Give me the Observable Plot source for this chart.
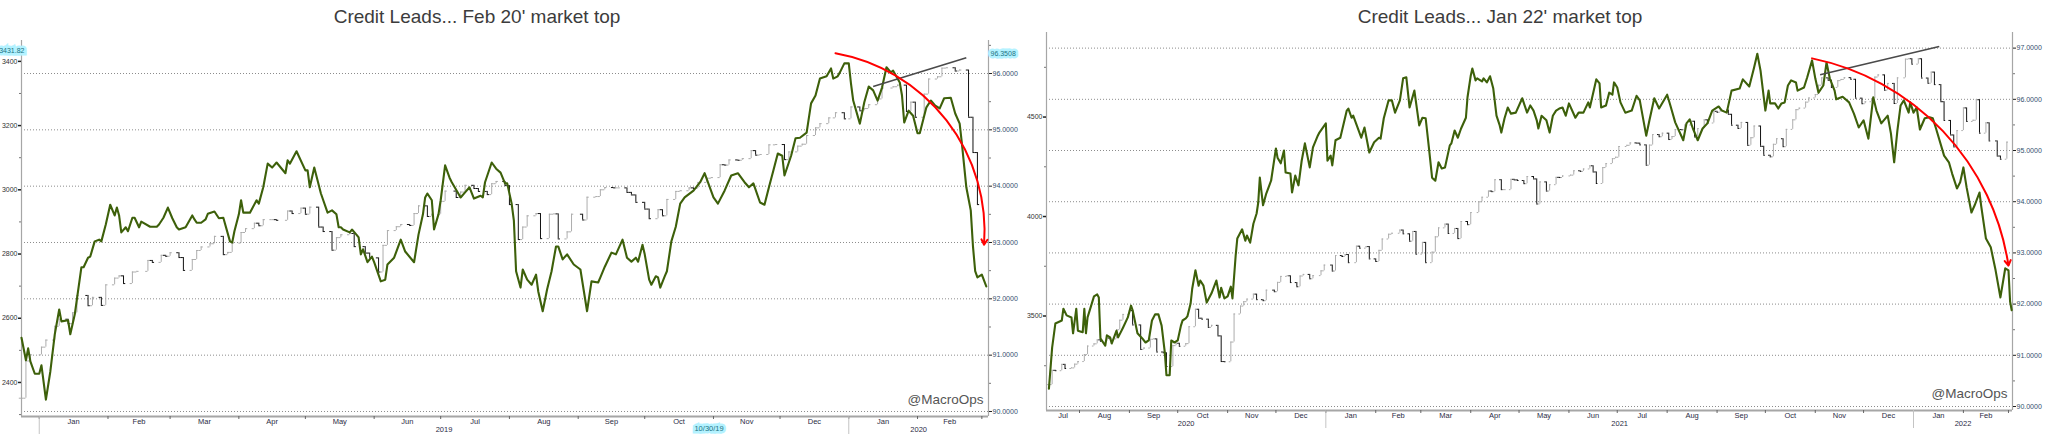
<!DOCTYPE html>
<html><head><meta charset="utf-8">
<script src="https://cdn.jsdelivr.net/npm/d3@7"></script>
<script src="https://cdn.jsdelivr.net/npm/@observablehq/plot@0.6"></script>
<style>
html,body{margin:0;padding:0;background:#fff;}
#wrap{position:relative;width:2048px;height:434px;overflow:hidden;background:#fff;}
.panel{position:absolute;top:0;}
.title{position:absolute;top:7px;font-family:"Liberation Sans",Arial,sans-serif;font-size:19px;line-height:19px;color:#3c3c3c;text-align:center;white-space:nowrap;}
</style></head><body>
<div id="wrap">
  <div class="panel" id="p1" style="left:0"></div>
  <div class="panel" id="p2" style="left:1024px"></div>
  <div class="title" id="t1" style="left:0;width:954px"></div>
  <div class="title" id="t2" style="left:1024px;width:952px"></div>
</div>
<script>
// ---------------- text ----------------
const titles = ["Credit Leads... Feb 20' market top", "Credit Leads... Jan 22' market top"];
const watermark = "@MacroOps";

// ---------------- panel 1 : Dec 2018 - Feb 2020 ----------------
const p1SpxDates = `2018-12-24 2018-12-26 2018-12-28 2019-01-02 2019-01-04 2019-01-08 2019-01-10 2019-01-14 2019-01-16 2019-01-18
2019-01-23 2019-01-25 2019-01-29 2019-01-31 2019-02-04 2019-02-06 2019-02-08 2019-02-12 2019-02-14 2019-02-19 2019-02-21 2019-02-25
2019-02-27 2019-03-01 2019-03-05 2019-03-07 2019-03-11 2019-03-13 2019-03-15 2019-03-19 2019-03-21 2019-03-25 2019-03-27 2019-03-29
2019-04-02 2019-04-04 2019-04-08 2019-04-10 2019-04-12 2019-04-16 2019-04-18 2019-04-23 2019-04-25 2019-04-29 2019-05-01 2019-05-03
2019-05-07 2019-05-09 2019-05-13 2019-05-15 2019-05-17 2019-05-21 2019-05-23 2019-05-28 2019-05-30 2019-06-03 2019-06-05 2019-06-07
2019-06-11 2019-06-13 2019-06-17 2019-06-19 2019-06-21 2019-06-25 2019-06-27 2019-07-01 2019-07-03 2019-07-08 2019-07-10 2019-07-12
2019-07-16 2019-07-18 2019-07-22 2019-07-24 2019-07-26 2019-07-30 2019-08-01 2019-08-05 2019-08-07 2019-08-09 2019-08-13 2019-08-15
2019-08-19 2019-08-21 2019-08-23 2019-08-27 2019-08-29 2019-09-03 2019-09-05 2019-09-09 2019-09-11 2019-09-13 2019-09-17 2019-09-19
2019-09-23 2019-09-25 2019-09-27 2019-10-01 2019-10-03 2019-10-07 2019-10-09 2019-10-11 2019-10-15 2019-10-17 2019-10-21 2019-10-23
2019-10-25 2019-10-29 2019-10-31 2019-11-04 2019-11-06 2019-11-08 2019-11-12 2019-11-14 2019-11-18 2019-11-20 2019-11-22 2019-11-26
2019-11-29 2019-12-03 2019-12-05 2019-12-09 2019-12-11 2019-12-13 2019-12-17 2019-12-19 2019-12-23 2019-12-26 2019-12-30 2020-01-02
2020-01-06 2020-01-08 2020-01-10 2020-01-14 2020-01-16 2020-01-21 2020-01-23 2020-01-27 2020-01-29 2020-01-31 2020-02-04 2020-02-06
2020-02-10 2020-02-12 2020-02-14 2020-02-18 2020-02-20 2020-02-24 2020-02-26 2020-02-28`.trim().split(/\s+/);
const p1SpxClose = [2351,2467,2486,2510,2532,2575,2597,2583,2617,2671,
2639,2665,2640,2704,2725,2732,2708,2744,2746,2780,2774,2796,
2793,2804,2789,2749,2783,2811,2822,2832,2855,2798,2805,2834,
2867,2879,2896,2888,2907,2907,2905,2934,2926,2943,2924,2946,
2884,2870,2812,2851,2860,2864,2823,2803,2788,2744,2827,2873,
2885,2892,2889,2926,2950,2917,2924,2964,2996,2976,2993,3014,
3004,2995,2985,3019,3026,3013,2954,2845,2884,2919,2926,2848,
2924,2925,2847,2869,2924,2906,2977,2979,3000,3007,3006,3006,
2992,2984,2961,2940,2910,2938,2919,2970,2995,2997,3006,3004,
3023,3036,3038,3078,3077,3093,3092,3097,3122,3108,3110,3140,
3141,3094,3118,3136,3142,3169,3193,3206,3224,3240,3221,3258,
3246,3253,3265,3283,3317,3321,3326,3244,3273,3226,3298,3345,
3352,3379,3380,3370,3373,3226,3116,2954];

const p1CreditDates = `2018-12-24 2018-12-26 2018-12-27 2018-12-28 2018-12-30 2019-01-01 2019-01-02 2019-01-04 2019-01-06 2019-01-08
2019-01-10 2019-01-11 2019-01-14 2019-01-15 2019-01-17 2019-01-20 2019-01-21 2019-01-23 2019-01-24 2019-01-26 2019-01-28 2019-01-29
2019-01-31 2019-02-02 2019-02-04 2019-02-05 2019-02-06 2019-02-07 2019-02-09 2019-02-10 2019-02-12 2019-02-13 2019-02-15 2019-02-16
2019-02-20 2019-02-23 2019-02-24 2019-02-26 2019-02-28 2019-03-02 2019-03-04 2019-03-05 2019-03-08 2019-03-11 2019-03-12 2019-03-13
2019-03-15 2019-03-17 2019-03-18 2019-03-21 2019-03-23 2019-03-25 2019-03-28 2019-03-29 2019-03-30 2019-04-01 2019-04-02 2019-04-03
2019-04-06 2019-04-09 2019-04-10 2019-04-12 2019-04-14 2019-04-16 2019-04-18 2019-04-22 2019-04-23 2019-04-24 2019-04-27 2019-05-01
2019-05-02 2019-05-03 2019-05-05 2019-05-08 2019-05-11 2019-05-13 2019-05-15 2019-05-16 2019-05-17 2019-05-18 2019-05-21 2019-05-22
2019-05-24 2019-05-25 2019-05-26 2019-05-27 2019-05-29 2019-05-31 2019-06-01 2019-06-04 2019-06-06 2019-06-07 2019-06-10 2019-06-13
2019-06-15 2019-06-19 2019-06-21 2019-06-23 2019-06-24 2019-06-25 2019-06-27 2019-06-28 2019-06-30 2019-07-01 2019-07-03 2019-07-05
2019-07-06 2019-07-10 2019-07-12 2019-07-14 2019-07-16 2019-07-19 2019-07-20 2019-07-21 2019-07-24 2019-07-26 2019-07-28 2019-07-30
2019-07-31 2019-08-02 2019-08-03 2019-08-04 2019-08-06 2019-08-07 2019-08-09 2019-08-11 2019-08-13 2019-08-14 2019-08-16 2019-08-18
2019-08-20 2019-08-22 2019-08-23 2019-08-25 2019-08-27 2019-08-30 2019-09-02 2019-09-05 2019-09-07 2019-09-10 2019-09-11 2019-09-13
2019-09-16 2019-09-18 2019-09-21 2019-09-23 2019-09-25 2019-09-27 2019-09-28 2019-09-30 2019-10-01 2019-10-03 2019-10-04 2019-10-06
2019-10-07 2019-10-08 2019-10-10 2019-10-11 2019-10-13 2019-10-15 2019-10-17 2019-10-19 2019-10-23 2019-10-26 2019-10-28 2019-11-01
2019-11-03 2019-11-06 2019-11-09 2019-11-12 2019-11-15 2019-11-17 2019-11-19 2019-11-22 2019-11-24 2019-11-26 2019-11-28 2019-11-30
2019-12-02 2019-12-03 2019-12-06 2019-12-08 2019-12-10 2019-12-13 2019-12-15 2019-12-17 2019-12-19 2019-12-22 2019-12-24 2019-12-25
2019-12-27 2019-12-28 2019-12-30 2020-01-01 2020-01-02 2020-01-03 2020-01-06 2020-01-08 2020-01-10 2020-01-12 2020-01-14 2020-01-16
2020-01-18 2020-01-20 2020-01-21 2020-01-24 2020-01-25 2020-01-26 2020-01-28 2020-01-30 2020-02-01 2020-02-02 2020-02-05 2020-02-07
2020-02-09 2020-02-11 2020-02-13 2020-02-16 2020-02-18 2020-02-20 2020-02-21 2020-02-23 2020-02-25 2020-02-26 2020-02-27 2020-02-28
2020-03-01 2020-03-03`.trim().split(/\s+/);
const p1Credit = [91.31,90.91,91.12,90.89,90.67,90.67,90.82,90.21,90.71,91.37,
91.81,91.60,91.62,91.37,91.72,92.56,92.56,92.73,92.75,93.02,93.05,93.02,
93.32,93.67,93.48,93.62,93.48,93.18,93.27,93.20,93.44,93.44,93.27,93.37,
93.28,93.28,93.32,93.44,93.62,93.43,93.27,93.23,93.27,93.48,93.41,93.35,
93.35,93.41,93.51,93.55,93.43,93.44,93.02,93.00,93.20,93.50,93.75,93.53,
93.53,93.75,93.69,93.98,94.40,94.33,94.42,94.23,94.46,94.40,94.62,94.28,
94.28,93.98,94.33,93.87,93.53,93.57,93.50,93.27,93.27,93.23,93.18,93.23,
93.14,93.09,92.79,92.88,92.65,92.75,92.65,92.31,92.34,92.61,92.73,93.05,
92.84,92.65,93.14,93.50,93.80,93.87,93.75,93.23,93.50,93.75,94.37,94.15,
94.07,93.80,93.89,93.98,93.78,93.83,93.80,94.07,94.42,94.31,94.24,94.05,
94.05,93.69,93.39,92.49,92.20,92.52,92.34,92.25,92.43,92.13,91.78,92.17,
92.49,92.93,92.93,92.70,92.79,92.61,92.52,91.78,92.31,92.29,92.38,92.57,
92.82,92.79,93.05,92.73,92.66,92.73,92.66,92.96,92.79,92.34,92.25,92.40,
92.38,92.20,92.40,92.49,93.02,93.28,93.69,93.80,93.92,94.07,94.23,93.80,
93.69,93.92,94.19,94.23,94.07,93.98,94.05,93.71,93.67,93.98,94.28,94.58,
94.54,94.19,94.54,94.85,94.86,94.95,95.47,95.61,95.91,95.95,96.09,95.91,
95.95,96.02,96.18,96.18,95.82,95.52,95.11,95.49,95.77,95.70,95.52,95.75,
96.11,96.02,96.05,95.84,95.61,95.13,95.34,95.25,94.94,94.94,95.40,95.52,
95.43,95.38,95.56,95.57,95.29,95.11,94.76,93.98,93.57,92.93,92.49,92.38,
92.43,92.22];

const p1LeftTicks = [2400, 2600, 2800, 3000, 3200, 3400];
const p1LeftMinor = [2300, 2500, 2700, 2900, 3100, 3300];
const p1RightTicks = [90, 91, 92, 93, 94, 95, 96];
const p1RightMinor = [90.5, 91.5, 92.5, 93.5, 94.5, 95.5, 96.5];
const p1ArcFrom = ["2019-12-26", 96.36];
const p1ArcTo = ["2020-03-02", 92.96];
const p1TrendFrom = ["2020-01-12", 95.77];
const p1TrendTo = ["2020-02-23", 96.28];
const p1LeftFlag = [3431.82];
const p1RightFlag = [96.3508];
const p1DateFlag = ["2019-10-30", "10/30/19"];

// ---------------- panel 2 : Jul 2020 - Feb 2022 ----------------
const p2SpxDates = `2020-07-13 2020-07-15 2020-07-17 2020-07-21 2020-07-23 2020-07-27 2020-07-29 2020-07-31 2020-08-04 2020-08-06
2020-08-10 2020-08-12 2020-08-14 2020-08-18 2020-08-20 2020-08-24 2020-08-26 2020-08-28 2020-09-01 2020-09-03 2020-09-08 2020-09-10
2020-09-14 2020-09-16 2020-09-18 2020-09-22 2020-09-24 2020-09-28 2020-09-30 2020-10-02 2020-10-06 2020-10-08 2020-10-12 2020-10-14
2020-10-16 2020-10-20 2020-10-22 2020-10-26 2020-10-28 2020-10-30 2020-11-03 2020-11-05 2020-11-09 2020-11-11 2020-11-13 2020-11-17
2020-11-19 2020-11-23 2020-11-25 2020-11-30 2020-12-02 2020-12-04 2020-12-08 2020-12-10 2020-12-14 2020-12-16 2020-12-18 2020-12-22
2020-12-24 2020-12-29 2020-12-31 2021-01-05 2021-01-07 2021-01-11 2021-01-13 2021-01-15 2021-01-20 2021-01-22 2021-01-26 2021-01-28
2021-02-01 2021-02-03 2021-02-05 2021-02-09 2021-02-11 2021-02-16 2021-02-18 2021-02-22 2021-02-24 2021-02-26 2021-03-02 2021-03-04
2021-03-08 2021-03-10 2021-03-12 2021-03-16 2021-03-18 2021-03-22 2021-03-24 2021-03-26 2021-03-30 2021-04-01 2021-04-06 2021-04-08
2021-04-12 2021-04-14 2021-04-16 2021-04-20 2021-04-22 2021-04-26 2021-04-28 2021-04-30 2021-05-04 2021-05-06 2021-05-10 2021-05-12
2021-05-14 2021-05-18 2021-05-20 2021-05-24 2021-05-26 2021-05-28 2021-06-02 2021-06-04 2021-06-08 2021-06-10 2021-06-14 2021-06-16
2021-06-18 2021-06-22 2021-06-24 2021-06-28 2021-06-30 2021-07-02 2021-07-07 2021-07-09 2021-07-13 2021-07-15 2021-07-19 2021-07-21
2021-07-23 2021-07-27 2021-07-29 2021-08-02 2021-08-04 2021-08-06 2021-08-10 2021-08-12 2021-08-16 2021-08-18 2021-08-20 2021-08-24
2021-08-26 2021-08-30 2021-09-01 2021-09-03 2021-09-08 2021-09-10 2021-09-14 2021-09-16 2021-09-20 2021-09-22 2021-09-24 2021-09-28
2021-09-30 2021-10-04 2021-10-06 2021-10-08 2021-10-12 2021-10-14 2021-10-18 2021-10-20 2021-10-22 2021-10-26 2021-10-28 2021-11-01
2021-11-03 2021-11-05 2021-11-09 2021-11-11 2021-11-15 2021-11-17 2021-11-19 2021-11-23 2021-11-26 2021-11-30 2021-12-02 2021-12-06
2021-12-08 2021-12-10 2021-12-14 2021-12-16 2021-12-20 2021-12-22 2021-12-27 2021-12-29 2021-12-31 2022-01-04 2022-01-06 2022-01-10
2022-01-12 2022-01-14 2022-01-18 2022-01-20 2022-01-24 2022-01-26 2022-01-28 2022-02-01 2022-02-03 2022-02-07 2022-02-09 2022-02-11
2022-02-15 2022-02-17 2022-02-22 2022-02-24 2022-02-28`.trim().split(/\s+/);
const p2SpxClose = [3155,3227,3225,3257,3236,3239,3258,3271,3306,3349,
3360,3380,3373,3389,3385,3431,3479,3508,3527,3455,3332,3339,
3383,3385,3319,3315,3246,3351,3363,3348,3361,3446,3534,3489,
3484,3443,3453,3400,3271,3270,3369,3510,3550,3572,3585,3610,
3582,3577,3630,3622,3669,3699,3702,3668,3647,3701,3709,3687,
3703,3727,3756,3726,3804,3799,3809,3768,3851,3841,3849,3787,
3774,3830,3887,3911,3916,3932,3913,3876,3925,3811,3870,3768,
3821,3898,3943,3962,3915,3940,3889,3975,3959,4020,4074,4097,
4128,4125,4185,4135,4135,4187,4184,4181,4165,4201,4189,4063,
4174,4128,4160,4197,4196,4204,4208,4230,4227,4239,4255,4224,
4166,4246,4266,4291,4298,4352,4358,4370,4369,4360,4258,4359,
4412,4401,4419,4387,4402,4437,4436,4460,4479,4400,4442,4486,
4470,4529,4524,4535,4514,4459,4443,4473,4358,4396,4455,4353,
4308,4300,4363,4391,4351,4438,4486,4537,4545,4575,4596,4613,
4660,4697,4685,4649,4683,4689,4698,4690,4595,4567,4577,4592,
4701,4712,4635,4669,4568,4697,4791,4793,4766,4793,4696,4670,
4726,4663,4577,4483,4410,4350,4432,4546,4478,4484,4587,4419,
4471,4380,4304,4288,4374];

const p2CreditDates = `2020-07-13 2020-07-15 2020-07-17 2020-07-21 2020-07-22 2020-07-24 2020-07-27 2020-07-28 2020-07-30 2020-07-31
2020-08-03 2020-08-04 2020-08-05 2020-08-06 2020-08-10 2020-08-12 2020-08-13 2020-08-14 2020-08-17 2020-08-18 2020-08-20 2020-08-21
2020-08-24 2020-08-25 2020-08-28 2020-08-31 2020-09-02 2020-09-03 2020-09-06 2020-09-09 2020-09-11 2020-09-13 2020-09-15 2020-09-17
2020-09-19 2020-09-21 2020-09-23 2020-09-24 2020-09-26 2020-09-27 2020-09-29 2020-10-01 2020-10-03 2020-10-04 2020-10-06 2020-10-07
2020-10-09 2020-10-10 2020-10-12 2020-10-14 2020-10-15 2020-10-17 2020-10-19 2020-10-22 2020-10-25 2020-10-27 2020-10-28 2020-10-30
2020-11-01 2020-11-03 2020-11-04 2020-11-06 2020-11-07 2020-11-10 2020-11-12 2020-11-13 2020-11-15 2020-11-17 2020-11-19 2020-11-20
2020-11-21 2020-11-23 2020-11-25 2020-11-28 2020-12-01 2020-12-02 2020-12-04 2020-12-06 2020-12-07 2020-12-10 2020-12-11 2020-12-13
2020-12-15 2020-12-17 2020-12-19 2020-12-22 2020-12-24 2020-12-27 2020-12-28 2021-01-01 2021-01-02 2021-01-04 2021-01-05 2021-01-07
2021-01-10 2021-01-14 2021-01-15 2021-01-17 2021-01-18 2021-01-23 2021-01-25 2021-01-28 2021-01-31 2021-02-03 2021-02-04 2021-02-06
2021-02-09 2021-02-11 2021-02-13 2021-02-16 2021-02-18 2021-02-20 2021-02-22 2021-02-25 2021-02-28 2021-03-02 2021-03-04 2021-03-06
2021-03-08 2021-03-10 2021-03-12 2021-03-14 2021-03-16 2021-03-19 2021-03-20 2021-03-22 2021-03-24 2021-03-26 2021-03-29 2021-03-30
2021-04-01 2021-04-02 2021-04-04 2021-04-05 2021-04-08 2021-04-09 2021-04-11 2021-04-13 2021-04-15 2021-04-17 2021-04-19 2021-04-20
2021-04-22 2021-04-24 2021-04-26 2021-04-29 2021-05-03 2021-05-06 2021-05-08 2021-05-10 2021-05-12 2021-05-13 2021-05-15 2021-05-18
2021-05-20 2021-05-22 2021-05-24 2021-05-26 2021-05-28 2021-05-30 2021-06-01 2021-06-05 2021-06-07 2021-06-10 2021-06-13 2021-06-14
2021-06-18 2021-06-20 2021-06-21 2021-06-24 2021-06-26 2021-06-28 2021-06-29 2021-07-01 2021-07-03 2021-07-06 2021-07-10 2021-07-13
2021-07-15 2021-07-19 2021-07-21 2021-07-24 2021-07-27 2021-08-01 2021-08-03 2021-08-06 2021-08-11 2021-08-13 2021-08-15 2021-08-17
2021-08-20 2021-08-23 2021-08-26 2021-08-29 2021-09-02 2021-09-04 2021-09-07 2021-09-10 2021-09-15 2021-09-17 2021-09-21 2021-09-24
2021-09-26 2021-09-28 2021-10-01 2021-10-03 2021-10-04 2021-10-07 2021-10-09 2021-10-11 2021-10-13 2021-10-15 2021-10-17 2021-10-20
2021-10-21 2021-10-25 2021-10-27 2021-10-30 2021-11-01 2021-11-03 2021-11-06 2021-11-08 2021-11-10 2021-11-13 2021-11-14 2021-11-18
2021-11-22 2021-11-25 2021-11-28 2021-12-01 2021-12-04 2021-12-07 2021-12-09 2021-12-12 2021-12-16 2021-12-18 2021-12-20 2021-12-22
2021-12-24 2021-12-26 2021-12-29 2021-12-30 2022-01-01 2022-01-03 2022-01-05 2022-01-08 2022-01-11 2022-01-13 2022-01-15 2022-01-20
2022-01-23 2022-01-25 2022-01-28 2022-01-30 2022-02-01 2022-02-03 2022-02-06 2022-02-08 2022-02-11 2022-02-12 2022-02-15 2022-02-18
2022-02-21 2022-02-24 2022-02-27 2022-03-01 2022-03-02 2022-03-03`.trim().split(/\s+/);
const p2Credit = [90.35,91.15,91.62,91.68,91.91,91.78,91.74,91.43,91.91,91.48,
91.45,91.91,91.43,91.74,92.15,92.19,92.13,91.33,91.19,91.39,91.35,91.23,
91.48,91.35,91.54,91.74,91.97,91.88,91.43,91.33,91.25,91.29,91.68,91.80,
91.80,91.58,91.05,90.61,90.61,91.29,91.25,91.29,91.58,91.68,91.72,91.76,
92.01,92.30,92.66,92.36,92.46,92.36,92.03,92.21,92.46,92.13,92.32,92.11,
92.15,92.34,92.11,92.95,93.28,93.46,93.24,93.34,93.20,93.57,93.77,93.98,
94.47,93.93,94.16,94.41,95.04,94.86,94.75,95.00,94.57,94.55,94.18,94.51,
94.32,94.80,95.14,94.67,95.06,95.29,95.35,95.53,94.80,94.90,94.71,95.20,
95.25,95.78,95.82,95.64,95.68,95.25,95.45,94.96,95.16,95.25,95.23,95.63,
95.98,95.98,95.74,95.98,96.41,96.43,95.84,96.17,95.49,95.64,95.63,95.06,
94.47,94.41,94.77,94.65,94.67,95.10,95.14,95.39,95.25,95.43,95.64,96.04,
96.46,96.60,96.37,96.41,96.35,96.41,96.33,96.45,96.21,95.68,95.49,95.35,
95.63,95.84,95.72,95.74,96.02,95.74,95.88,95.78,95.59,95.43,95.68,95.59,
95.35,95.68,95.78,95.82,95.84,95.68,95.92,95.64,95.74,95.74,95.94,95.84,
96.39,96.31,95.84,95.88,96.13,96.09,96.33,96.23,95.94,95.74,95.78,96.07,
95.98,95.29,95.59,96.02,95.82,96.09,95.88,95.55,95.20,95.53,95.61,95.43,
95.20,95.43,95.53,95.78,95.86,95.78,95.74,96.17,96.21,96.39,96.25,96.62,
96.89,96.56,95.78,96.17,95.92,95.92,95.82,95.92,95.94,96.27,96.37,96.33,
96.17,96.23,96.43,96.76,96.41,96.13,96.27,96.72,96.41,96.17,96.00,96.05,
95.94,95.72,95.45,95.59,95.23,96.04,95.78,95.53,95.68,95.33,94.77,95.39,
95.88,95.98,95.74,95.94,95.74,95.84,95.41,95.63,95.65,95.63,95.43,94.90,
94.77,94.55,94.26,94.38,94.67,94.28,93.79,93.93,94.18,93.93,93.28,93.11,
92.66,92.13,92.70,92.66,92.05,91.88];

const p2LeftTicks = [3500, 4000, 4500];
const p2LeftMinor = [3250, 3750, 4250, 4750];
const p2RightTicks = [90, 91, 92, 93, 94, 95, 96, 97];
const p2RightMinor = [90.5, 91.5, 92.5, 93.5, 94.5, 95.5, 96.5];
const p2ArcFrom = ["2021-10-30", 96.80];
const p2ArcTo = ["2022-03-01", 92.75];
const p2TrendFrom = ["2021-11-04", 96.48];
const p2TrendTo = ["2022-01-17", 97.03];

// ---------------- drawing ----------------
const GREEN = "#3d600a";
const UPBAR = "#adadad", DOWNBAR = "#111";
const FONT = "'Liberation Sans', Arial, sans-serif";
const AXISTEXT = "#34506e";

function drawPanel(cfg) {
  const xs = new Date(cfg.xDomain[0]), xe = new Date(cfg.xDomain[1]);
  const toRight = d3.scaleLinear(cfg.leftDomain, cfg.yDomain);
  const D = d3.utcDay;

  const spx = cfg.spxClose.map((c, i) => {
    const o = i ? cfg.spxClose[i - 1] : c;
    return {date: new Date(cfg.spxDates[i]), open: o, close: c, lo: Math.min(o, c), hi: Math.max(o, c), up: c >= o};
  });
  const credit = cfg.creditDates.map((d, i) => ({date: new Date(d), value: cfg.credit[i]}));

  const mid = (a, b) => new Date((+a + +b) / 2);
  const months = d3.utcMonth.range(d3.utcMonth.floor(xs), xe);
  const monthTicks = months.filter(m => m > xs);
  const monthMids = months.map(m => {
    const a = m < xs ? xs : m, nb = d3.utcMonth.offset(m, 1), b = nb > xe ? xe : nb;
    return (b - a) > 10 * 864e5 ? mid(a, b) : null;
  }).filter(Boolean);
  const years = d3.utcYear.range(d3.utcYear.floor(xs), xe);
  const yearTicks = years.filter(y => y > xs);
  const yearMids = years.map(y => {
    const a = y < xs ? xs : y, nb = d3.utcYear.offset(y, 1), b = nb > xe ? xe : nb;
    return (b - a) > 20 * 864e5 ? mid(a, b) : null;
  }).filter(Boolean);

  const barMarks = (data, color) => [
    Plot.ruleX(data, {x: "date", y1: d => toRight(d.lo), y2: d => toRight(d.hi), stroke: color, strokeWidth: 1}),
    Plot.ruleY(data, {y: d => toRight(d.open), x1: d => D.offset(d.date, -1), x2: "date", stroke: color, strokeWidth: 1}),
    Plot.ruleY(data, {y: d => toRight(d.close), x1: "date", x2: d => D.offset(d.date, 1), stroke: color, strokeWidth: 1})
  ];

  const arc = [{x1: new Date(cfg.arcFrom[0]), y1: cfg.arcFrom[1], x2: new Date(cfg.arcTo[0]), y2: cfg.arcTo[1]}];
  const trend = [{x1: new Date(cfg.trendFrom[0]), y1: cfg.trendFrom[1], x2: new Date(cfg.trendTo[0]), y2: cfg.trendTo[1]}];

  const marks = [
    Plot.ruleY(cfg.rightTicks, {stroke: "#8c8c8c", strokeDasharray: "1,2", strokeWidth: 1}),
    Plot.ruleX([xs, xe], {stroke: "#a6a6a6", strokeWidth: 1.2}),
    Plot.ruleY([cfg.yDomain[0]], {stroke: "#a6a6a6", strokeWidth: 2}),
    Plot.axisY({anchor: "right", ticks: cfg.rightTicks, tickSize: 3, tickPadding: 1, tickFormat: d => d.toFixed(4), fontSize: 7, fill: AXISTEXT, stroke: "#222"}),
    Plot.axisY({anchor: "right", ticks: cfg.rightMinor, tickSize: 2, tickFormat: () => "", stroke: "#777"}),
    Plot.axisY({anchor: "left", ticks: cfg.leftTicks.map(toRight), tickSize: 3, tickPadding: 1, tickFormat: d => String(Math.round(toRight.invert(d))), fontSize: 7, fill: "#333", stroke: "#222", strokeWidth: 1.5}),
    Plot.axisY({anchor: "left", ticks: cfg.leftMinor.map(toRight), tickSize: 2, tickFormat: () => "", stroke: "#777"}),
    Plot.axisX({ticks: monthTicks, tickSize: 3, tickFormat: () => "", stroke: "#666"}),
    Plot.axisX({ticks: yearTicks, tickSize: 18, tickFormat: () => "", stroke: "#c4c4c4"}),
    Plot.axisX({ticks: monthMids, tickSize: 0, tickPadding: 2, tickFormat: d3.utcFormat("%b"), fontSize: 7.5, fill: "#2b2b44"}),
    Plot.axisX({ticks: yearMids, tickSize: 0, tickPadding: 10, tickFormat: d3.utcFormat("%Y"), fontSize: 7.5, fill: "#2b2b44"}),
    ...barMarks(spx.filter(d => d.up), UPBAR),
    ...barMarks(spx.filter(d => !d.up), DOWNBAR),
    Plot.line(credit, {x: "date", y: "value", stroke: GREEN, strokeWidth: 2.1, strokeLinejoin: "round"}),
    Plot.link(trend, {x1: "x1", y1: "y1", x2: "x2", y2: "y2", stroke: "#4a4a4a", strokeWidth: 1.6}),
    Plot.arrow(arc, {x1: "x1", y1: "y1", x2: "x2", y2: "y2", bend: cfg.bend, stroke: "#ff0000", strokeWidth: 2, headLength: 4.5}),
    Plot.text([watermark], {frameAnchor: "bottom-right", dx: -5, dy: -13, textAnchor: "end", fontSize: 13.5, fill: "#555", fontFamily: FONT})
  ];

  if (cfg.leftFlag) {
    marks.push(Plot.text(cfg.leftFlag, {y: d => toRight(d), text: d => d.toFixed(2), frameAnchor: "left", dx: 3, textAnchor: "end", fontSize: 7, fill: "#1c7383", stroke: "#b4f2ff", strokeWidth: 5, strokeLinejoin: "miter"}));
  }
  if (cfg.rightFlag) {
    marks.push(Plot.text(cfg.rightFlag, {y: d => d, text: d => d.toFixed(4), frameAnchor: "right", dx: 2, textAnchor: "start", fontSize: 7, fill: "#1c7383", stroke: "#b4f2ff", strokeWidth: 5, strokeLinejoin: "miter"}));
  }
  if (cfg.dateFlag) {
    marks.push(Plot.text([cfg.dateFlag], {x: d => new Date(d[0]), text: d => d[1], frameAnchor: "bottom", dy: 14, fontSize: 7.5, fill: "#1c7383", stroke: "#b4f2ff", strokeWidth: 5, strokeLinejoin: "miter"}));
  }

  return Plot.plot({
    width: 1024, height: 434,
    marginLeft: cfg.margins[0], marginRight: cfg.margins[1], marginTop: cfg.margins[2], marginBottom: cfg.margins[3],
    x: {type: "utc", domain: [xs, xe]},
    y: {domain: cfg.yDomain},
    style: {fontFamily: FONT, fontSize: "7px", color: "#333", background: "#fff", overflow: "visible"},
    marks
  });
}

document.getElementById("t1").textContent = titles[0];
document.getElementById("t2").textContent = titles[1];

document.getElementById("p1").appendChild(drawPanel({
  xDomain: ["2018-12-24", "2020-03-04"],
  yDomain: [89.911, 96.586],
  leftDomain: [2294, 3465],
  margins: [21, 36, 40, 18],
  spxDates: p1SpxDates, spxClose: p1SpxClose,
  creditDates: p1CreditDates, credit: p1Credit,
  leftTicks: p1LeftTicks, leftMinor: p1LeftMinor,
  rightTicks: p1RightTicks, rightMinor: p1RightMinor,
  arcFrom: p1ArcFrom, arcTo: p1ArcTo, bend: 42,
  trendFrom: p1TrendFrom, trendTo: p1TrendTo,
  leftFlag: p1LeftFlag, rightFlag: p1RightFlag, dateFlag: p1DateFlag
}));

document.getElementById("p2").appendChild(drawPanel({
  xDomain: ["2020-07-11T12:00Z", "2022-03-03T12:00Z"],
  yDomain: [89.922, 97.305],
  leftDomain: [3025, 4925],
  margins: [22, 36, 32, 24],
  spxDates: p2SpxDates, spxClose: p2SpxClose,
  creditDates: p2CreditDates, credit: p2Credit,
  leftTicks: p2LeftTicks, leftMinor: p2LeftMinor,
  rightTicks: p2RightTicks, rightMinor: p2RightMinor,
  arcFrom: p2ArcFrom, arcTo: p2ArcTo, bend: 35,
  trendFrom: p2TrendFrom, trendTo: p2TrendTo
}));
</script>
</body></html>
